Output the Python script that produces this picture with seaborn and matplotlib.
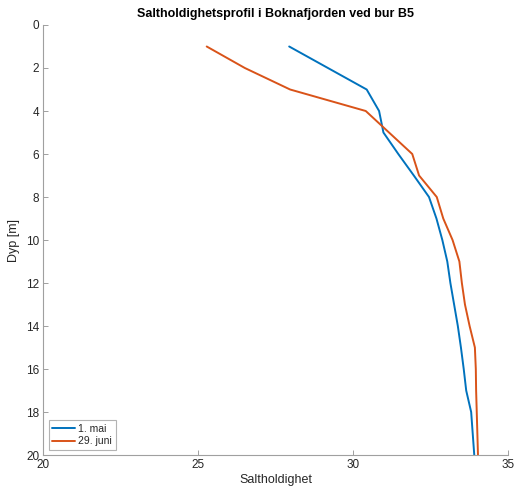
import matplotlib
matplotlib.use("Agg")
import matplotlib.pyplot as plt
import seaborn as sns
import pandas as pd

depth = list(range(1, 21))
salt_mai = [27.93, 29.18, 30.43, 30.83, 30.97, 31.45, 31.95, 32.44, 32.68, 32.87,
            33.03, 33.13, 33.25, 33.37, 33.47, 33.56, 33.64, 33.80, 33.85, 33.90]
salt_juni = [25.27, 26.50, 27.96, 30.40, 31.15, 31.90, 32.12, 32.69, 32.90, 33.20,
             33.42, 33.50, 33.60, 33.75, 33.92, 33.95, 33.96, 33.98, 34.00, 34.02]
labels = ["1. mai", "29. juni"]
colors = ["#0072BD", "#D95319"]
x_ticks = [20, 25, 30, 35]
y_ticks = list(range(0, 21, 2))

df = pd.concat([
    pd.DataFrame({"Dyp": depth, "Salt": salt_mai, "Dato": labels[0]}),
    pd.DataFrame({"Dyp": depth, "Salt": salt_juni, "Dato": labels[1]}),
])

sns.set_style("white")
plt.rcParams["font.family"] = ["Liberation Sans", "DejaVu Sans"]

fig = plt.figure(figsize=(5.17, 4.94), dpi=100)
ax = fig.add_axes([0.0838, 0.0789, 0.8995, 0.8705])

sns.lineplot(data=df, x="Salt", y="Dyp", hue="Dato", palette=colors,
             sort=False, estimator=None, linewidth=1.4, ax=ax)

ax.set_xlim(20, 35)
ax.set_ylim(20, 0)
ax.set_xticks(x_ticks)
ax.set_yticks(y_ticks)
ax.tick_params(direction="in", length=3.5, width=0.6, colors="#909090",
               labelcolor="#262626", labelsize=8.5, pad=3,
               bottom=True, left=True, top=False, right=False)
for s in ["top", "right"]:
    ax.spines[s].set_visible(False)
for s in ["left", "bottom"]:
    ax.spines[s].set_color("#a0a0a0")
    ax.spines[s].set_linewidth(0.8)

ax.set_xlabel("Saltholdighet", fontsize=9, color="#262626", labelpad=2)
ax.set_ylabel("Dyp [m]", fontsize=9, color="#262626", labelpad=4)
ax.set_title("Saltholdighetsprofil i Boknafjorden ved bur B5", fontsize=9,
             fontweight="bold", color="black", pad=6)

leg = ax.legend(loc="lower left", fontsize=7.5, frameon=True, fancybox=False,
                handlelength=2.2, handletextpad=0.3, borderpad=0.35,
                labelspacing=0.25, borderaxespad=0.5)
leg.get_frame().set_edgecolor("#a0a0a0")
leg.get_frame().set_linewidth(0.8)
leg.set_title(None)

fig.savefig("out.png", dpi=100)
